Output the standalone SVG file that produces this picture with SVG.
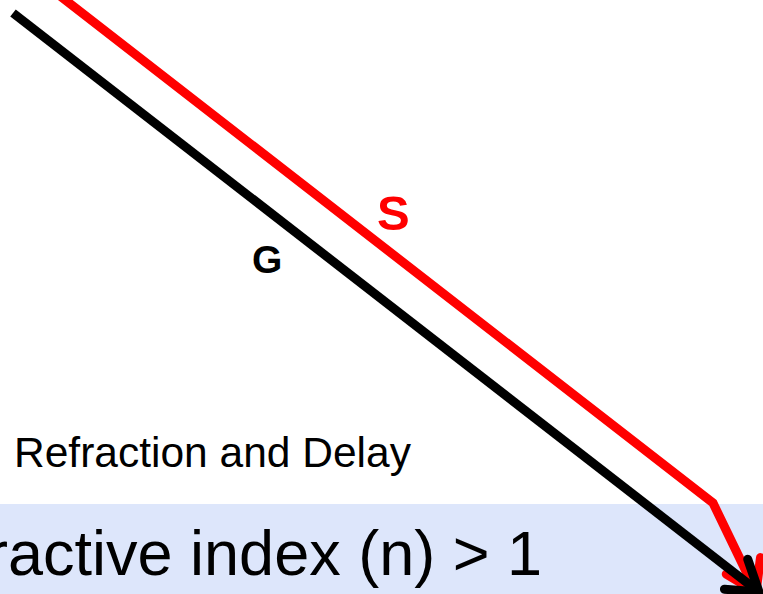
<svg xmlns="http://www.w3.org/2000/svg" width="763" height="594" viewBox="0 0 763 594">
  <style>
    .ray { fill: none; stroke-width: 9; stroke-linejoin: miter; stroke-linecap: butt; }
    .lbl { font-family: "Liberation Sans", Arial, sans-serif; }
  </style>
  <defs>
    <marker id="arrRed" markerUnits="userSpaceOnUse" viewBox="-40 -30 50 60" markerWidth="50" markerHeight="60" refX="0" refY="0" orient="auto" overflow="visible">
      <path d="M -29,-19 L 0,0 L -29,19" fill="none" stroke="#ff0000" stroke-width="9" stroke-linecap="round" stroke-linejoin="round"/>
    </marker>
    <marker id="arrBlack" markerUnits="userSpaceOnUse" viewBox="-40 -30 50 60" markerWidth="50" markerHeight="60" refX="0" refY="0" orient="auto" overflow="visible">
      <path d="M -29,-19 L 0,0 L -29,19" fill="none" stroke="#000000" stroke-width="9" stroke-linecap="round" stroke-linejoin="round"/>
    </marker>
  </defs>
  <rect width="763" height="594" fill="#ffffff"/>
  <g id="medium">
    <rect x="0" y="504" width="763" height="90" fill="#dde6fb"/>
    <text class="lbl" x="-13" y="575" font-size="63" fill="#000000">ractive index (n) &gt; 1</text>
  </g>
  <g id="caption">
    <text class="lbl" x="14" y="467" font-size="42.5" fill="#000000">Refraction and Delay</text>
  </g>
  <g id="connectors">
    <path id="ray-S" class="ray" stroke="#ff0000" d="M 55,-8 L 713,503 L 756,592" marker-end="url(#arrRed)"/>
    <path id="ray-G" class="ray" stroke="#000000" d="M 13,13 L 759,592" marker-end="url(#arrBlack)"/>
  </g>
  <g id="label-S">
    <text class="lbl" x="377" y="230" font-size="49" font-weight="bold" fill="#ff0000">S</text>
  </g>
  <g id="label-G">
    <text class="lbl" x="252" y="273" font-size="39" font-weight="bold" fill="#000000">G</text>
  </g>
</svg>
